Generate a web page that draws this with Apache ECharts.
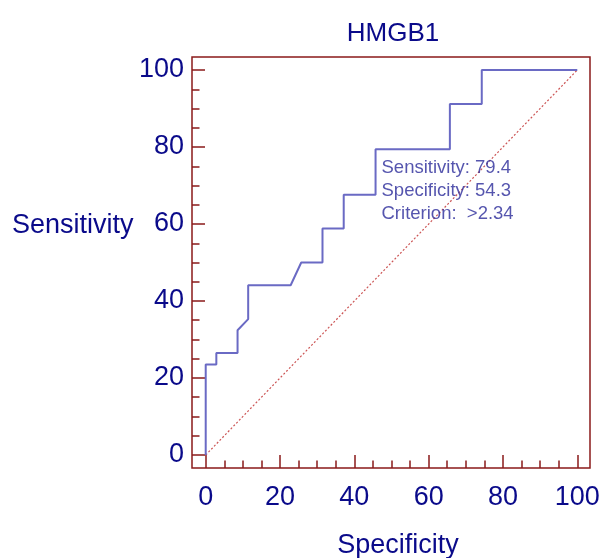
<!DOCTYPE html>
<html>
<head>
<meta charset="utf-8">
<script src="https://cdn.jsdelivr.net/npm/echarts@6/dist/echarts.min.js"></script>
<style>
html,body{margin:0;padding:0;background:#fff;}
#chart{width:603px;height:558px;}
</style>
</head>
<body>
<div id="chart"></div>
<script>
// ROC curve of HMGB1: x = 100 - Specificity, y = Sensitivity
const oneMinusSpec = [0, 0, 2.86, 2.86, 8.57, 8.57, 11.43, 11.43, 22.86, 25.71, 31.43, 31.43, 37.14, 37.14, 45.71, 45.71, 65.71, 65.71, 74.29, 74.29, 100];
const sensitivity  = [0, 23.5, 23.5, 26.5, 26.5, 32.4, 35.3, 44.1, 44.1, 50, 50, 58.8, 58.8, 67.6, 67.6, 79.4, 79.4, 91.2, 91.2, 100, 100];
const diagonalX = [0, 100];
const diagonalY = [0, 100];
const cutoffPoint = [45.71, 79.4];
const cutoffLines = ['Sensitivity: 79.4', 'Specificity: 54.3', 'Criterion:  >2.34'];
const tickLabels = [0, 20, 40, 60, 80, 100];
const minorTicks = [5, 10, 15, 25, 30, 35, 45, 50, 55, 65, 70, 75, 85, 90, 95];
const xRange = [-3.69, 103.42];
const yRange = [-3.38, 103.38];
const titleText = 'HMGB1';
const xName = 'Specificity';
const yName = 'Sensitivity';

const navy = '#0a0a8a';
const frameRed = '#8b1a1a';
const font = 'Arial, "Liberation Sans", sans-serif';

const chart = echarts.init(document.getElementById('chart'), null, {renderer: 'canvas'});

const curve = oneMinusSpec.map((x, i) => [x, sensitivity[i]]);
const diag = diagonalX.map((x, i) => [x, diagonalY[i]]);

const majorTickStyle = {show: true, inside: true, length: 13, lineStyle: {color: frameRed, width: 1.5}, customValues: tickLabels};
const minorTickStyle = {show: true, inside: true, length: 7.5, lineStyle: {color: frameRed, width: 1.5}, customValues: minorTicks};
const hiddenLine = {show: false, onZero: false};

chart.setOption({
  animation: false,
  backgroundColor: '#ffffff',
  title: [
    {text: titleText, left: 393, top: 21, textAlign: 'center', padding: 0,
     textStyle: {color: navy, fontSize: 26, fontWeight: 'normal', fontFamily: font}},
    {text: yName, left: 12, top: 212, padding: 0,
     textStyle: {color: navy, fontSize: 27, fontWeight: 'normal', fontFamily: font}},
    {text: xName, left: 398, top: 532, textAlign: 'center', padding: 0,
     textStyle: {color: navy, fontSize: 27, fontWeight: 'normal', fontFamily: font}}
  ],
  grid: [
    {left: 192, right: 13, top: 57, bottom: 90, show: true, borderColor: frameRed, borderWidth: 1.5, backgroundColor: 'transparent'}
  ],
  xAxis: [
    {type: 'value', min: xRange[0], max: xRange[1], position: 'bottom',
     axisLine: hiddenLine,
     axisTick: majorTickStyle,
     splitLine: {show: false},
     axisLabel: {show: true, margin: 16, color: navy, fontSize: 27, fontFamily: font,
       customValues: tickLabels}},
    {type: 'value', min: xRange[0], max: xRange[1], position: 'bottom',
     axisLine: hiddenLine,
     axisTick: minorTickStyle,
     splitLine: {show: false},
     axisLabel: {show: false}}
  ],
  yAxis: [
    {type: 'value', min: yRange[0], max: yRange[1], position: 'left',
     axisLine: hiddenLine,
     axisTick: majorTickStyle,
     splitLine: {show: false},
     axisLabel: {show: true, margin: 8, color: navy, fontSize: 27, fontFamily: font,
       customValues: tickLabels}},
    {type: 'value', min: yRange[0], max: yRange[1], position: 'left',
     axisLine: hiddenLine,
     axisTick: minorTickStyle,
     splitLine: {show: false},
     axisLabel: {show: false}}
  ],
  series: [
    {type: 'line', data: diag, symbol: 'none', silent: true,
     lineStyle: {color: '#cc5555', width: 1.2, type: [2, 2]}, z: 2},
    {type: 'line', data: curve, symbol: 'none', silent: true,
     lineStyle: {color: '#6a6ac4', width: 2}, z: 3},
    {type: 'scatter', data: [cutoffPoint], symbolSize: 0.1, silent: true, z: 4,
     label: {show: true, position: [6, 7], align: 'left', verticalAlign: 'top',
       formatter: () => cutoffLines.join('\n'),
       color: '#2a2a9a', fontSize: 18.5, lineHeight: 23, fontFamily: font}}
  ]
});
</script>
</body>
</html>
